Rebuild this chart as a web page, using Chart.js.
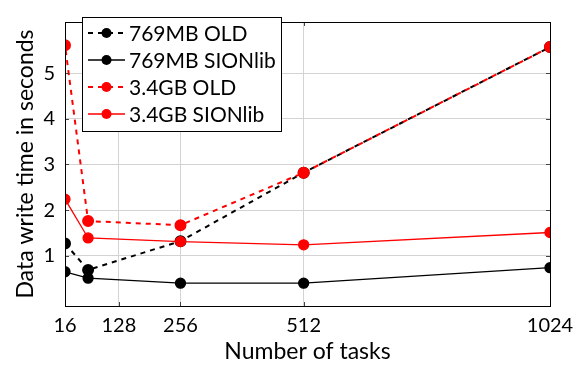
<!DOCTYPE html>
<html>
<head>
<meta charset="utf-8">
<script src="https://cdn.jsdelivr.net/npm/chart.js@4/dist/chart.umd.min.js"></script>
<style>
  html, body { margin: 0; padding: 0; background: #fff; }
  #wrap { width: 575px; height: 369px; }
</style>
</head>
<body>
<div id="wrap"><canvas id="c" width="575" height="369"></canvas></div>
<script>
// x = number of tasks
const tasks = [16, 64, 256, 512, 1024];
const xTicks = [16, 128, 256, 512, 1024];
const yTicks = [1, 2, 3, 4, 5];

// data write time in seconds
const old769 = [1.27, 0.69, 1.32, 2.82, 5.57];
const sion769 = [0.65, 0.51, 0.40, 0.40, 0.74];
const old34 = [5.61, 1.76, 1.67, 2.82, 5.57];
const sion34 = [2.24, 1.39, 1.31, 1.24, 1.51];

const FONT = 'Lato, sans-serif';

function pts(ys) {
    return tasks.map((t, i) => ({ x: t, y: ys[i] }));
}

// legend inside the plot + frame with inward ticks (pgfplots look)
const framePlugin = {
    id: 'frame',
    afterDraw(chart) {
        const { ctx, chartArea: a, scales } = chart;
        ctx.save();
        // ticks
        ctx.strokeStyle = '#444';
        ctx.lineWidth = 1;
        ctx.beginPath();
        yTicks.forEach(v => {
            const y = Math.round(scales.y.getPixelForValue(v)) + 0.5;
            ctx.moveTo(a.left, y); ctx.lineTo(a.left + 4, y);
            ctx.moveTo(a.right, y); ctx.lineTo(a.right - 4, y);
        });
        xTicks.forEach(v => {
            const x = Math.round(scales.x.getPixelForValue(v)) + 0.5;
            ctx.moveTo(x, a.bottom); ctx.lineTo(x, a.bottom - 4);
            ctx.moveTo(x, a.top); ctx.lineTo(x, a.top + 4);
        });
        ctx.stroke();
        // box
        ctx.strokeStyle = '#000';
        ctx.strokeRect(Math.round(a.left) + 0.5, Math.round(a.top) + 0.5,
            Math.round(a.right - a.left), Math.round(a.bottom - a.top));

        // legend
        const lx = 82, ly = 17, lw = 199, lh = 114;
        ctx.fillStyle = '#fff';
        ctx.fillRect(lx, ly, lw, lh);
        ctx.strokeStyle = '#000';
        ctx.strokeRect(lx + 0.5, ly + 0.5, lw, lh);
        ctx.font = '21px ' + FONT;
        ctx.textBaseline = 'middle';
        chart.data.datasets.forEach((ds, i) => {
            const y = ly + 16 + i * 27;
            ctx.strokeStyle = ds.borderColor;
            ctx.lineWidth = ds.borderWidth;
            ctx.setLineDash(ds.borderDash || []);
            ctx.beginPath();
            ctx.moveTo(88, y); ctx.lineTo(125, y);
            ctx.stroke();
            ctx.setLineDash([]);
            ctx.fillStyle = ds.pointBackgroundColor;
            ctx.beginPath();
            ctx.arc(106.5, y, 5, 0, Math.PI * 2);
            ctx.fill();
            ctx.fillStyle = '#000';
            ctx.fillText(ds.label, 129, y + 1);
        });
        ctx.restore();
    }
};

new Chart(document.getElementById('c'), {
    type: 'line',
    data: {
        datasets: [{
            label: '769MB OLD',
            data: pts(old769),
            borderColor: '#000',
            pointBackgroundColor: '#000',
            pointBorderColor: '#000',
            borderWidth: 2,
            borderDash: [5, 5],
            order: 4
        }, {
            label: '769MB SIONlib',
            data: pts(sion769),
            borderColor: '#000',
            pointBackgroundColor: '#000',
            pointBorderColor: '#000',
            borderWidth: 1.3,
            order: 3
        }, {
            label: '3.4GB OLD',
            data: pts(old34),
            borderColor: '#ff0000',
            pointBackgroundColor: '#ff0000',
            pointBorderColor: '#ff0000',
            borderWidth: 2,
            borderDash: [5, 5],
            borderDashOffset: 5,
            order: 2
        }, {
            label: '3.4GB SIONlib',
            data: pts(sion34),
            borderColor: '#ff0000',
            pointBackgroundColor: '#ff0000',
            pointBorderColor: '#ff0000',
            borderWidth: 1.3,
            order: 1
        }]
    },
    options: {
        responsive: false,
        animation: false,
        layout: { padding: { top: 7, right: 0, left: 12, bottom: 4 } },
        elements: {
            line: { tension: 0 },
            point: { radius: 5, borderWidth: 0, hoverRadius: 5 }
        },
        plugins: {
            legend: { display: false },
            tooltip: { enabled: false }
        },
        scales: {
            x: {
                type: 'linear',
                min: 16,
                max: 1024,
                afterBuildTicks: s => { s.ticks = xTicks.map(v => ({ value: v })); },
                afterFit: s => { s.height = 59; s.paddingRight = 25; s.paddingLeft = 0; },
                ticks: {
                    color: '#000',
                    font: { family: FONT, size: 20 },
                    padding: 8,
                    maxRotation: 0,
                    autoSkip: false,
                    callback: v => String(v)
                },
                grid: { color: '#d3d3d3', drawTicks: false },
                border: { display: false },
                title: {
                    display: true,
                    text: 'Number of tasks',
                    color: '#000',
                    font: { family: FONT, size: 23 },
                    padding: { top: 1, bottom: 0 }
                }
            },
            y: {
                min: -0.1,
                max: 6.12,
                afterBuildTicks: s => { s.ticks = yTicks.map(v => ({ value: v })); },
                afterFit: s => { s.width = 53; },
                ticks: {
                    color: '#000',
                    font: { family: FONT, size: 20 },
                    padding: 10
                },
                grid: { color: '#d3d3d3', drawTicks: false },
                border: { display: false },
                title: {
                    display: true,
                    text: 'Data write time in seconds',
                    color: '#000',
                    font: { family: FONT, size: 23 },
                    padding: { top: 0, bottom: 4 }
                }
            }
        }
    },
    plugins: [framePlugin]
});
</script>
</body>
</html>
